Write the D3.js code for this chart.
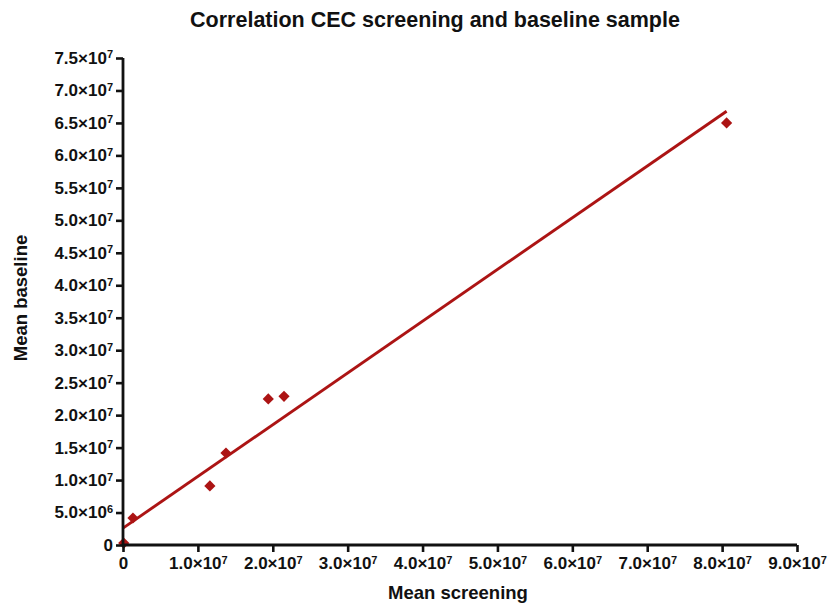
<!DOCTYPE html>
<html>
<head>
<meta charset="utf-8">
<script src="https://cdn.jsdelivr.net/npm/d3@7"></script>
<style>
  body { margin: 0; background: #fff; }
  text { font-family: "Liberation Sans", Arial, sans-serif; font-weight: bold; fill: #111; }
</style>
</head>
<body>
<svg id="chart" width="829" height="603"></svg>
<script>
// data
var screening = [1e5, 1.33e6, 1.16e7, 1.375e7, 1.94e7, 2.15e7, 8.06e7];
var baseline  = [3e5, 4.16e6, 9.1e6, 1.417e7, 2.25e7, 2.29e7, 6.5e7];
// fitted line ends, as drawn in the picture
var fitX = [0, 8.06e7];
var fitY = [2.6e6, 6.68e7];
var xTicks = [0, 1e7, 2e7, 3e7, 4e7, 5e7, 6e7, 7e7, 8e7, 9e7];
var yTicks = [0, 5e6, 1e7, 1.5e7, 2e7, 2.5e7, 3e7, 3.5e7, 4e7, 4.5e7, 5e7, 5.5e7, 6e7, 6.5e7, 7e7, 7.5e7];

var svg = d3.select("#chart");
var red = "#ac1414";

var x = d3.scaleLinear().domain([0, 9e7]).range([123, 797]);
var y = d3.scaleLinear().domain([0, 7.5e7]).range([545, 58]);

// label like 5.0x10^6
function sciLabel(sel) {
  sel.each(function(d) {
    var t = d3.select(this).text(null);
    if (d === 0) { t.text("0"); return; }
    var e = Math.floor(Math.log10(d));
    var m = (d / Math.pow(10, e)).toFixed(1);
    t.append("tspan").text(m + "\u00d710");
    t.append("tspan").attr("dy", "-0.5em").attr("font-size", "11px").text(e);
  });
}

svg.append("path")
  .datum(fitX)
  .attr("d", d3.line().x(function(d) { return x(d); }).y(function(d, i) { return y(fitY[i]); }))
  .attr("stroke", red).attr("stroke-width", 2.9).attr("fill", "none");

svg.selectAll(".pt").data(screening).enter().append("path")
  .attr("class", "pt")
  .attr("transform", function(d, i) { return "translate(" + x(d) + "," + y(baseline[i]) + ")"; })
  .attr("d", d3.symbol().type(d3.symbolDiamond2).size(80))
  .attr("fill", red);

// axes
var xAxis = svg.append("g").attr("transform", "translate(0,545)")
  .call(d3.axisBottom(x).tickValues(xTicks).tickSize(7).tickPadding(5));
var yAxis = svg.append("g").attr("transform", "translate(123,0)")
  .call(d3.axisLeft(y).tickValues(yTicks).tickSize(7).tickPadding(3));

[xAxis, yAxis].forEach(function(a) {
  a.select(".domain").attr("stroke", "#111").attr("stroke-width", 2.8);
  a.selectAll(".tick line").attr("stroke", "#111").attr("stroke-width", 2.6);
  a.selectAll(".tick text").attr("font-size", "17px").attr("fill", "#111").call(sciLabel);
});
xAxis.select(".domain").attr("d", "M123,0H797");
yAxis.select(".domain").attr("d", "M0,545V58");

svg.append("text").attr("x", 435).attr("y", 27).attr("text-anchor", "middle")
  .attr("font-size", "21.5px").text("Correlation CEC screening and baseline sample");
svg.append("text").attr("x", 458).attr("y", 599).attr("text-anchor", "middle")
  .attr("font-size", "18.5px").text("Mean screening");
svg.append("text").attr("transform", "translate(27,298) rotate(-90)").attr("text-anchor", "middle")
  .attr("font-size", "18.5px").text("Mean baseline");
</script>
</body>
</html>
